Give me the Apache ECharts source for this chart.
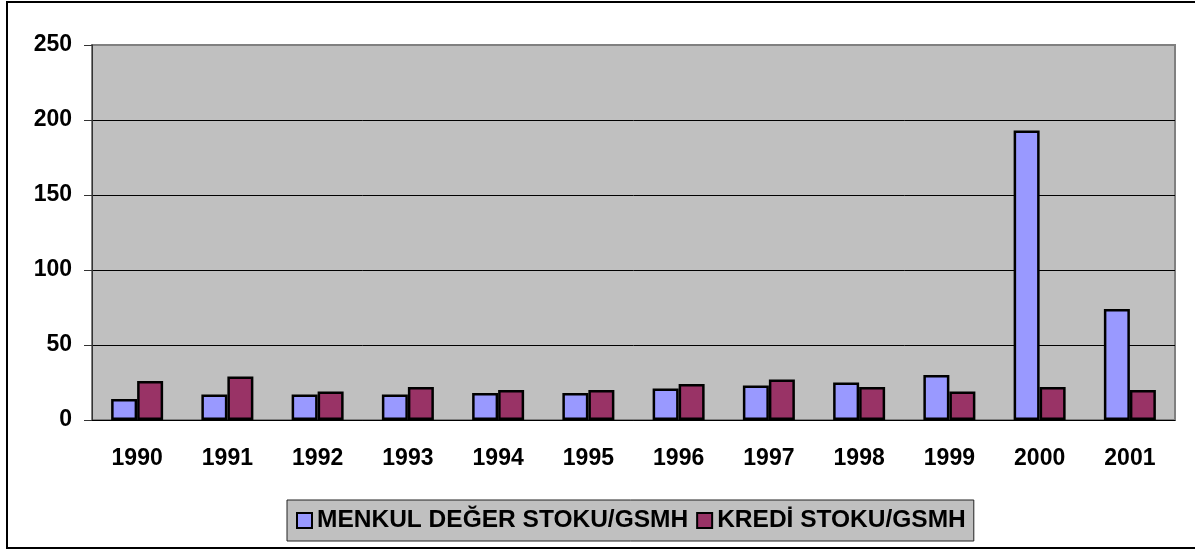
<!DOCTYPE html>
<html>
<head>
<meta charset="utf-8">
<script src="https://cdn.jsdelivr.net/npm/echarts@6/dist/echarts.min.js"></script>
<style>
  html, body { margin: 0; padding: 0; background: #fff; }
  #chart { width: 1195px; height: 550px; }
</style>
</head>
<body>
<div id="chart"></div>
<script>
// yillar ve oranlar
var years = ['1990', '1991', '1992', '1993', '1994', '1995', '1996', '1997', '1998', '1999', '2000', '2001'];
var menkul = [14, 17, 17, 17, 18, 18, 21, 23, 25, 30, 193, 74];
var kredi = [26, 29, 19, 22, 20, 20, 24, 27, 22, 19, 22, 20];
var seriesNames = ['MENKUL DEĞER STOKU/GSMH', 'KREDİ STOKU/GSMH'];

var font = "'Liberation Sans', Arial, sans-serif";

var myChart = echarts.init(document.getElementById('chart'));
var option = {
  animation: false,
  textStyle: { fontFamily: font },
  graphic: [{
    type: 'rect',
    shape: { x: 7, y: 2, width: 1200, height: 546 },
    style: { fill: 'none', stroke: '#000', lineWidth: 2 },
    silent: true
  }],
  grid: {
    left: 92, right: 20, top: 45, bottom: 130,
    show: true,
    backgroundColor: '#C0C0C0',
    borderColor: '#808080',
    borderWidth: 2
  },
  legend: {
    data: seriesNames,
    left: 287, top: 500,
    icon: 'rect',
    itemWidth: 15, itemHeight: 15,
    itemGap: 8,
    backgroundColor: '#C0C0C0',
    borderColor: '#222',
    borderWidth: 1,
    padding: [8, 8, 8, 9],
    textStyle: { fontFamily: font, fontWeight: 'bold', fontSize: 24.5, color: '#000' }
  },
  xAxis: {
    type: 'category',
    data: years,
    axisLine: { lineStyle: { color: '#000', width: 1 } },
    axisTick: { length: 8, lineStyle: { color: '#333' } },
    axisLabel: { margin: 27, fontFamily: font, fontWeight: 'bold', fontSize: 23, color: '#000' }
  },
  yAxis: {
    type: 'value',
    min: 0, max: 250, interval: 50,
    axisLine: { show: true, lineStyle: { color: '#333', width: 1 } },
    axisTick: { show: true, length: 8, lineStyle: { color: '#333' } },
    axisLabel: { margin: 20, fontFamily: font, fontWeight: 'bold', fontSize: 23, color: '#000' },
    splitLine: { show: true, showMaxLine: false, lineStyle: { color: '#000', width: 1 } }
  },
  series: [
    {
      name: seriesNames[0],
      type: 'bar',
      data: menkul,
      barWidth: 26,
      barGap: '0%',
      itemStyle: { color: '#9999FF', borderColor: '#000', borderWidth: 2.5 }
    },
    {
      name: seriesNames[1],
      type: 'bar',
      data: kredi,
      barWidth: 26,
      barGap: '0%',
      itemStyle: { color: '#993366', borderColor: '#000', borderWidth: 2.5 }
    }
  ]
};
myChart.setOption(option);
</script>
</body>
</html>
